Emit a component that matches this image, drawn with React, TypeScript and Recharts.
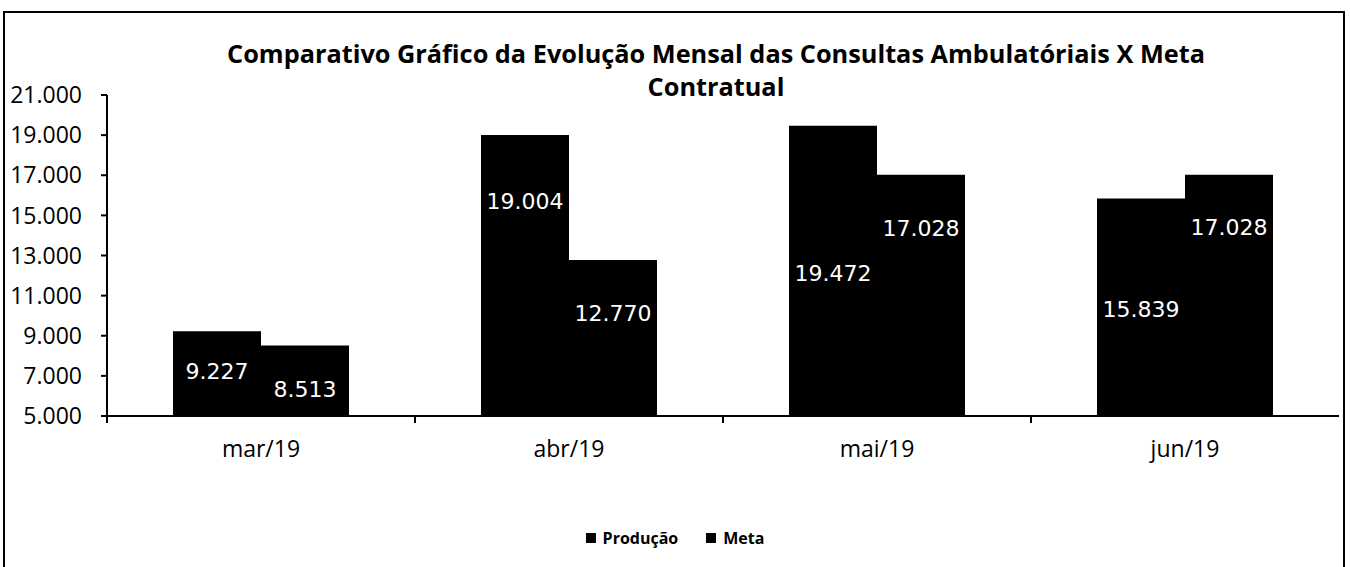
import React from 'react';
import { BarChart, Bar, XAxis, YAxis, Legend, LabelList } from 'recharts';

const categories = ['mar/19', 'abr/19', 'mai/19', 'jun/19'];
const producao = [9227, 19004, 19472, 15839];
const meta = [8513, 12770, 17028, 17028];
const yTicks = [5000, 7000, 9000, 11000, 13000, 15000, 17000, 19000, 21000];
const seriesNames = ['Produção', 'Meta'];

// label placement (pixels below bar top), styling only
const labelDyProducao = [40, 66, 148, 111];
const labelDyMeta = [44, 53, 54, 53];

const data = categories.map((c, i) => ({ name: c, producao: producao[i], meta: meta[i] }));

const fmt = (v: number) => String(v).replace(/\B(?=(\d{3})+(?!\d))/g, '.');

const X_TICK_MARGIN = 25;

const CategoryTick = (props: any) => {
  const { x, y, payload } = props;
  const axisY = Number(y) - X_TICK_MARGIN;
  const half = Number(payload?.offset ?? 0);
  const bx = Number(x) - half;
  return (
    <g>
      <line x1={bx} x2={bx} y1={axisY} y2={axisY + 7} stroke="#000" strokeWidth={2} />
      <text x={x} y={y} dy="0.71em" textAnchor="middle" fill="#000" fontFamily="Open Sans" fontSize={23}>
        {payload.value}
      </text>
    </g>
  );
};

const makeLabel = (offsets: number[]) => (props: any) => {
  const { x, y, width, value, index } = props;
  return (
    <text
      x={Number(x) + Number(width) / 2}
      y={Number(y) + offsets[index]}
      fill="#ffffff"
      textAnchor="middle"
      dominantBaseline="central"
      fontFamily="DejaVu Sans"
      fontSize={22}
    >
      {fmt(value)}
    </text>
  );
};

const LegendContent = () => (
  <div style={{ display: 'flex', justifyContent: 'center', alignItems: 'center', fontFamily: 'Open Sans', fontWeight: 700, fontSize: 16, color: '#000' }}>
    {seriesNames.map((n, i) => (
      <div key={n} style={{ display: 'flex', alignItems: 'center', marginLeft: i ? 28 : 0 }}>
        <div style={{ width: 10, height: 10, background: '#000', marginRight: 7 }} />
        <span>{n}</span>
      </div>
    ))}
  </div>
);

export default function App() {
  return (
    <div style={{ position: 'absolute', left: 0, top: 0, width: 1350, height: 567, overflow: 'hidden', background: '#fff' }}>
      <div style={{ position: 'absolute', left: 3, top: 11, width: 1338, height: 600, border: '2px solid #000' }} />
      <div
        style={{
          position: 'absolute',
          left: 100,
          width: 1232,
          top: 37,
          textAlign: 'center',
          fontFamily: 'Open Sans',
          fontWeight: 700,
          fontSize: 25.3,
          lineHeight: '33px',
          color: '#000',
        }}
      >
        Comparativo Gráfico da Evolução Mensal das Consultas Ambulatóriais X Meta
        <br />
        Contratual
      </div>
      <div style={{ position: 'absolute', left: 0, top: 0 }}>
        <BarChart
          width={1350}
          height={567}
          data={data}
          margin={{ top: 95, right: 11, left: 0, bottom: 91 }}
          barGap={0}
        >
          <XAxis
            dataKey="name"
            tickLine={false}
            tickSize={0}
            tickMargin={X_TICK_MARGIN}
            axisLine={{ stroke: '#000', strokeWidth: 2 }}
            tick={<CategoryTick />}
            height={60}
          />
          <YAxis
            domain={[5000, 21000]}
            ticks={yTicks}
            tickFormatter={fmt}
            width={107}
            interval={0}
            axisLine={{ stroke: '#000', strokeWidth: 2 }}
            tickLine={{ stroke: '#000', strokeWidth: 2 }}
            tickSize={6}
            tickMargin={19}
            tick={{ fill: '#000', fontFamily: 'Open Sans', fontSize: 23 }}
          />
          <Legend
            layout="horizontal"
            verticalAlign="middle"
            align="center"
            wrapperStyle={{ top: 527, left: 0, width: 1350 }}
            content={<LegendContent />}
          />
          <Bar dataKey="producao" name={seriesNames[0]} fill="#000" barSize={88} isAnimationActive={false}>
            <LabelList dataKey="producao" content={makeLabel(labelDyProducao)} />
          </Bar>
          <Bar dataKey="meta" name={seriesNames[1]} fill="#000" barSize={88} isAnimationActive={false}>
            <LabelList dataKey="meta" content={makeLabel(labelDyMeta)} />
          </Bar>
        </BarChart>
      </div>
    </div>
  );
}
